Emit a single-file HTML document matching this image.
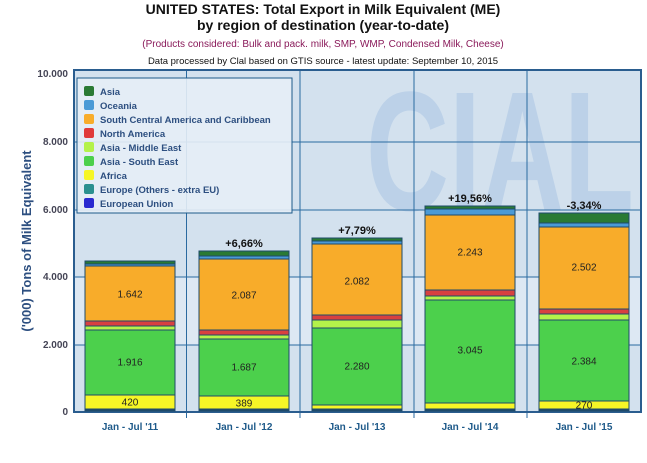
<!DOCTYPE html>
<html><head><meta charset="utf-8"><style>
body{margin:0;background:#fff;width:647px;height:458px;overflow:hidden;font-family:"Liberation Sans","DejaVu Sans",sans-serif}
</style></head><body>
<svg width="647" height="458" xmlns="http://www.w3.org/2000/svg" font-family="Liberation Sans, DejaVu Sans, sans-serif">
<text x="323" y="14" text-anchor="middle" font-size="14" font-weight="bold" fill="#111">UNITED STATES: Total Export in Milk Equivalent (ME)</text>
<text x="323" y="30" text-anchor="middle" font-size="14" font-weight="bold" fill="#111">by region of destination (year-to-date)</text>
<text x="323" y="47" text-anchor="middle" font-size="10" fill="#8a1a5a">(Products considered: Bulk and pack. milk, SMP, WMP, Condensed Milk, Cheese)</text>
<text x="323" y="64" text-anchor="middle" font-size="9.5" fill="#111">Data processed by Clal based on GTIS source - latest update: September 10, 2015</text>
<rect x="74" y="70" width="567" height="342" fill="#d3e1ee"/>
<rect x="74" y="277" width="567" height="68" fill="#dde8f3"/>
<text x="366" y="210" font-size="170" font-weight="bold" fill="#bcd1e8" textLength="268" lengthAdjust="spacingAndGlyphs">CIAL</text>
<g stroke="#2a6aa0" stroke-width="1">
<line x1="74" y1="142" x2="641" y2="142"/><line x1="74" y1="210" x2="641" y2="210"/><line x1="74" y1="277" x2="641" y2="277"/><line x1="74" y1="345" x2="641" y2="345"/>
<line x1="186.5" y1="70" x2="186.5" y2="418"/><line x1="300" y1="70" x2="300" y2="418"/><line x1="414" y1="70" x2="414" y2="418"/><line x1="527" y1="70" x2="527" y2="418"/>
</g>
<rect x="74" y="70" width="567" height="342" fill="none" stroke="#2a5d8f" stroke-width="2"/>
<g font-size="10" font-weight="bold" fill="#445" text-anchor="end">
<text x="68" y="77">10.000</text><text x="68" y="145">8.000</text><text x="68" y="213">6.000</text><text x="68" y="280">4.000</text><text x="68" y="348">2.000</text><text x="68" y="415">0</text>
</g>
<text transform="translate(31,241) rotate(-90)" text-anchor="middle" font-size="13" font-weight="bold" fill="#2d4f80">('000) Tons of Milk Equivalent</text>
<g stroke="#1e4a6a" stroke-width="1">
<rect x="85" y="410" width="90" height="1" fill="#2a2ad0"/><rect x="85" y="409" width="90" height="1" fill="#2a9090"/>
<rect x="85" y="395" width="90" height="14" fill="#f6f626"/><rect x="85" y="330" width="90" height="65" fill="#4cd04c"/>
<rect x="85" y="326" width="90" height="4" fill="#b4f24a"/><rect x="85" y="321" width="90" height="5" fill="#d84040"/>
<rect x="85" y="266" width="90" height="55" fill="#f8ac2a"/><rect x="85" y="264" width="90" height="2" fill="#4a9ad6"/><rect x="85" y="261" width="90" height="3" fill="#2a7a34"/>
<rect x="199" y="410" width="90" height="1" fill="#2a2ad0"/><rect x="199" y="409" width="90" height="1" fill="#2a9090"/>
<rect x="199" y="396" width="90" height="13" fill="#f6f626"/><rect x="199" y="339" width="90" height="57" fill="#4cd04c"/>
<rect x="199" y="335" width="90" height="4" fill="#b4f24a"/><rect x="199" y="330" width="90" height="5" fill="#d84040"/>
<rect x="199" y="259" width="90" height="71" fill="#f8ac2a"/><rect x="199" y="256" width="90" height="3" fill="#4a9ad6"/><rect x="199" y="251" width="90" height="5" fill="#2a7a34"/>
<rect x="312" y="410" width="90" height="1" fill="#2a2ad0"/><rect x="312" y="409" width="90" height="1" fill="#2a9090"/>
<rect x="312" y="405" width="90" height="4" fill="#f6f626"/><rect x="312" y="328" width="90" height="77" fill="#4cd04c"/>
<rect x="312" y="320" width="90" height="8" fill="#b4f24a"/><rect x="312" y="315" width="90" height="5" fill="#d84040"/>
<rect x="312" y="244" width="90" height="71" fill="#f8ac2a"/><rect x="312" y="241" width="90" height="3" fill="#4a9ad6"/><rect x="312" y="238" width="90" height="3" fill="#2a7a34"/>
<rect x="425" y="410" width="90" height="1" fill="#2a2ad0"/><rect x="425" y="409" width="90" height="1" fill="#2a9090"/>
<rect x="425" y="403" width="90" height="6" fill="#f6f626"/><rect x="425" y="300" width="90" height="103" fill="#4cd04c"/>
<rect x="425" y="296" width="90" height="4" fill="#b4f24a"/><rect x="425" y="290" width="90" height="6" fill="#d84040"/>
<rect x="425" y="215" width="90" height="75" fill="#f8ac2a"/><rect x="425" y="209" width="90" height="6" fill="#4a9ad6"/><rect x="425" y="206" width="90" height="3" fill="#2a7a34"/>
<rect x="539" y="410" width="90" height="1" fill="#2a2ad0"/><rect x="539" y="409" width="90" height="1" fill="#2a9090"/>
<rect x="539" y="401" width="90" height="8" fill="#f6f626"/><rect x="539" y="320" width="90" height="81" fill="#4cd04c"/>
<rect x="539" y="314" width="90" height="6" fill="#b4f24a"/><rect x="539" y="309" width="90" height="5" fill="#d84040"/>
<rect x="539" y="227" width="90" height="82" fill="#f8ac2a"/><rect x="539" y="223" width="90" height="4" fill="#4a9ad6"/><rect x="539" y="213" width="90" height="10" fill="#2a7a34"/>
</g>
<g font-size="10" fill="#222" text-anchor="middle" dominant-baseline="central">
<text x="130" y="403">420</text><text x="130" y="363">1.916</text><text x="130" y="295">1.642</text>
<text x="244" y="404">389</text><text x="244" y="368">1.687</text><text x="244" y="296">2.087</text>
<text x="357" y="367">2.280</text><text x="357" y="282">2.082</text>
<text x="470" y="351">3.045</text><text x="470" y="253">2.243</text>
<text x="584" y="406">270</text><text x="584" y="362">2.384</text><text x="584" y="268">2.502</text>
</g>
<g font-size="11" font-weight="bold" fill="#111" text-anchor="middle">
<text x="244" y="247">+6,66%</text><text x="357" y="234">+7,79%</text><text x="470" y="202">+19,56%</text><text x="584" y="209">-3,34%</text>
</g>
<g font-size="10" font-weight="bold" fill="#1e5a8a" text-anchor="middle">
<text x="130" y="430">Jan - Jul '11</text><text x="244" y="430">Jan - Jul '12</text><text x="357" y="430">Jan - Jul '13</text><text x="470" y="430">Jan - Jul '14</text><text x="584" y="430">Jan - Jul '15</text>
</g>
<rect x="77" y="78" width="215" height="135" fill="#e6eef6" fill-opacity="0.9" stroke="#1e5a8a" stroke-width="1"/>
<g font-size="9.5" font-weight="bold" fill="#2d4f80">
<rect x="84" y="86" width="10" height="10" rx="2" fill="#2a7a34"/><text x="100" y="95">Asia</text>
<rect x="84" y="100" width="10" height="10" rx="2" fill="#4a9ad6"/><text x="100" y="109">Oceania</text>
<rect x="84" y="114" width="10" height="10" rx="2" fill="#f8ac2a"/><text x="100" y="123">South Central America and Caribbean</text>
<rect x="84" y="128" width="10" height="10" rx="2" fill="#e03a3a"/><text x="100" y="137">North America</text>
<rect x="84" y="142" width="10" height="10" rx="2" fill="#b4f24a"/><text x="100" y="151">Asia - Middle East</text>
<rect x="84" y="156" width="10" height="10" rx="2" fill="#4cd04c"/><text x="100" y="165">Asia - South East</text>
<rect x="84" y="170" width="10" height="10" rx="2" fill="#f6f626"/><text x="100" y="179">Africa</text>
<rect x="84" y="184" width="10" height="10" rx="2" fill="#2a9090"/><text x="100" y="193">Europe (Others - extra EU)</text>
<rect x="84" y="198" width="10" height="10" rx="2" fill="#2a2ad0"/><text x="100" y="207">European Union</text>
</g>
</svg>
</body></html>
